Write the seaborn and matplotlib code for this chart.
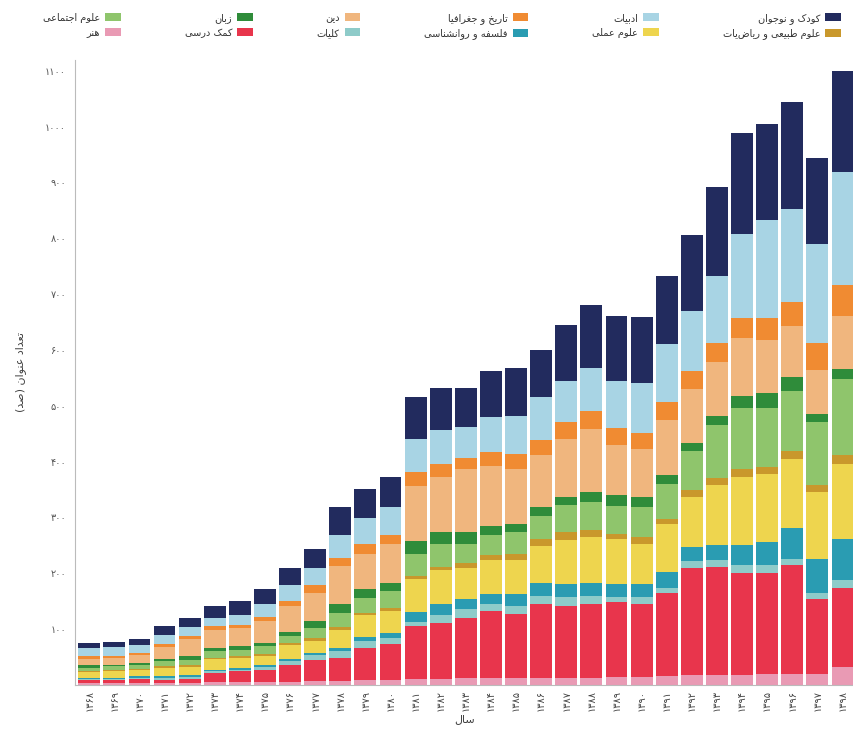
import seaborn as sns
import numpy as np
import pandas as pd
import matplotlib.pyplot as plt
from matplotlib.patches import Patch

# سال ها (۱۳۶۸ تا ۱۳۹۸)
years = ["۱۳۶۸", "۱۳۶۹", "۱۳۷۰", "۱۳۷۱", "۱۳۷۲", "۱۳۷۳", "۱۳۷۴", "۱۳۷۵", "۱۳۷۶", "۱۳۷۷",
         "۱۳۷۸", "۱۳۷۹", "۱۳۸۰", "۱۳۸۱", "۱۳۸۲", "۱۳۸۳", "۱۳۸۴", "۱۳۸۵", "۱۳۸۶", "۱۳۸۷",
         "۱۳۸۸", "۱۳۸۹", "۱۳۹۰", "۱۳۹۱", "۱۳۹۲", "۱۳۹۳", "۱۳۹۴", "۱۳۹۵", "۱۳۹۶", "۱۳۹۷", "۱۳۹۸"]

# from the bottom of the stack to the top
honar = [3, 3, 3, 3, 4, 5, 5, 6, 6, 7, 7, 8, 8, 10, 10, 12, 12, 12, 12, 13, 13, 14, 14, 16, 18, 18, 18, 19, 20, 20, 32]
komak_darsi = [5, 6, 7, 6, 7, 16, 19, 21, 30, 38, 42, 58, 65, 96, 101, 107, 120, 115, 133, 128, 132, 134, 131, 148, 191, 194, 183, 181, 194, 134, 142]
kolliyat = [2, 2, 3, 3, 3, 3, 3, 5, 6, 8, 11, 13, 11, 7, 14, 16, 12, 14, 14, 16, 14, 10, 12, 10, 13, 11, 13, 14, 12, 11, 14]
falsafe = [2, 2, 2, 3, 3, 3, 4, 4, 5, 4, 6, 6, 9, 18, 19, 18, 19, 21, 24, 24, 24, 22, 23, 29, 25, 27, 37, 41, 55, 61, 74]
oloom_amali = [11, 11, 11, 15, 15, 19, 17, 15, 24, 22, 33, 40, 40, 58, 61, 57, 60, 61, 66, 78, 82, 81, 73, 85, 90, 108, 122, 122, 124, 120, 133]
oloom_tabiei = [2, 3, 3, 3, 3, 3, 3, 4, 4, 5, 4, 4, 4, 6, 6, 9, 10, 11, 12, 14, 12, 10, 11, 9, 12, 12, 13, 14, 14, 12, 16]
oloom_ejtemaei = [6, 6, 7, 9, 10, 11, 12, 14, 12, 18, 26, 26, 31, 39, 42, 34, 36, 39, 42, 50, 51, 50, 54, 62, 70, 95, 109, 104, 108, 113, 136]
zaban = [4, 3, 4, 5, 6, 6, 6, 6, 8, 13, 15, 16, 15, 24, 20, 20, 16, 15, 16, 14, 18, 19, 19, 16, 14, 17, 22, 27, 24, 14, 19]
din = [12, 12, 13, 20, 32, 33, 32, 40, 46, 50, 69, 64, 70, 99, 100, 114, 107, 99, 92, 104, 112, 90, 86, 100, 97, 96, 104, 95, 91, 79, 95]
tarikh = [4, 4, 4, 6, 4, 6, 6, 6, 10, 14, 15, 17, 16, 24, 22, 20, 25, 26, 28, 30, 33, 30, 28, 32, 32, 34, 36, 40, 43, 48, 56]
adabiyat = [15, 15, 15, 17, 16, 15, 19, 24, 28, 31, 41, 47, 49, 60, 62, 55, 63, 68, 77, 74, 77, 84, 89, 104, 108, 121, 151, 176, 167, 177, 201]
koodak = [9, 10, 10, 15, 17, 21, 24, 26, 31, 33, 50, 52, 54, 75, 74, 69, 83, 86, 84, 100, 112, 117, 118, 122, 136, 158, 181, 172, 192, 154, 181]

categories = ["هنر", "کمک درسی", "کلیات", "فلسفه و روانشناسی", "علوم عملی",
              "علوم طبیعی و ریاضیات", "علوم اجتماعی", "زبان", "دین",
              "تاریخ و جغرافیا", "ادبیات", "کودک و نوجوان"]
colors = ["#e99ab4", "#e8354c", "#8ecbc9", "#2a9cb2", "#eed54e",
          "#c9982c", "#8fc56c", "#2f8c3a", "#f0b67e",
          "#f08b32", "#a8d4e4", "#222b5e"]

y_ticks = [100, 200, 300, 400, 500, 600, 700, 800, 900, 1000, 1100]
y_tick_labels = ["۱۰۰", "۲۰۰", "۳۰۰", "۴۰۰", "۵۰۰", "۶۰۰", "۷۰۰", "۸۰۰", "۹۰۰", "۱۰۰۰", "۱۱۰۰"]

# --- tiny persian shaper (matplotlib has no text shaping) ---
FORMS = {
    "ا": ("\uFE8D", "\uFE8E", None, None), "ب": ("\uFE8F", "\uFE90", "\uFE91", "\uFE92"),
    "پ": ("\uFB56", "\uFB57", "\uFB58", "\uFB59"), "ت": ("\uFE95", "\uFE96", "\uFE97", "\uFE98"),
    "ج": ("\uFE9D", "\uFE9E", "\uFE9F", "\uFEA0"), "چ": ("\uFB7A", "\uFB7B", "\uFB7C", "\uFB7D"),
    "ح": ("\uFEA1", "\uFEA2", "\uFEA3", "\uFEA4"), "خ": ("\uFEA5", "\uFEA6", "\uFEA7", "\uFEA8"),
    "د": ("\uFEA9", "\uFEAA", None, None), "ذ": ("\uFEAB", "\uFEAC", None, None),
    "ر": ("\uFEAD", "\uFEAE", None, None), "ز": ("\uFEAF", "\uFEB0", None, None),
    "ژ": ("\uFB8A", "\uFB8B", None, None), "س": ("\uFEB1", "\uFEB2", "\uFEB3", "\uFEB4"),
    "ش": ("\uFEB5", "\uFEB6", "\uFEB7", "\uFEB8"), "ص": ("\uFEB9", "\uFEBA", "\uFEBB", "\uFEBC"),
    "ط": ("\uFEC1", "\uFEC2", "\uFEC3", "\uFEC4"), "ع": ("\uFEC9", "\uFECA", "\uFECB", "\uFECC"),
    "غ": ("\uFECD", "\uFECE", "\uFECF", "\uFED0"), "ف": ("\uFED1", "\uFED2", "\uFED3", "\uFED4"),
    "ق": ("\uFED5", "\uFED6", "\uFED7", "\uFED8"), "ک": ("\uFB8E", "\uFB8F", "\uFB90", "\uFB91"),
    "گ": ("\uFB92", "\uFB93", "\uFB94", "\uFB95"), "ل": ("\uFEDD", "\uFEDE", "\uFEDF", "\uFEE0"),
    "م": ("\uFEE1", "\uFEE2", "\uFEE3", "\uFEE4"), "ن": ("\uFEE5", "\uFEE6", "\uFEE7", "\uFEE8"),
    "و": ("\uFEED", "\uFEEE", None, None), "ه": ("\uFEE9", "\uFEEA", "\uFEEB", "\uFEEC"),
    "ی": ("\uFBFC", "\uFBFD", "\uFBFE", "\uFBFF"),
}
MIRROR = {"(": ")", ")": "("}


def fa(s):
    out = []
    for i, c in enumerate(s):
        if c not in FORMS:
            out.append(MIRROR.get(c, c))
            continue
        prev = s[i - 1] if i > 0 else ""
        nxt = s[i + 1] if i + 1 < len(s) else ""
        jp = prev in FORMS and FORMS[prev][2] is not None
        jn = nxt in FORMS and FORMS[c][2] is not None
        iso, fin, ini, med = FORMS[c]
        if jp and jn:
            out.append(med)
        elif jp:
            out.append(fin)
        elif jn:
            out.append(ini)
        else:
            out.append(iso)
    return "".join(reversed(out))


sns.set_style("white")
plt.rcParams["font.family"] = ["DejaVu Sans"]

df = pd.DataFrame(dict(zip(categories, [honar, komak_darsi, kolliyat, falsafe, oloom_amali,
                                        oloom_tabiei, oloom_ejtemaei, zaban, din, tarikh,
                                        adabiyat, koodak])))
df["year"] = years
cum = df[categories].cumsum(axis=1)
cum["year"] = years

fig = plt.figure(figsize=(8.54, 7.42), dpi=100)
ax = fig.add_axes([0.088, 0.077, 0.912, 0.842])

# draw from the top layer down so each lower layer covers the one above
for cat, col in reversed(list(zip(categories, colors))):
    sns.barplot(data=cum, x="year", y=cat, order=years, color=col,
                width=0.87, linewidth=0, saturation=1, ax=ax)

ax.set_xlim(-0.56, 30.46)
ax.set_ylim(0, 1119)
ax.set_yticks(y_ticks)
ax.set_yticklabels(y_tick_labels, fontsize=7, color="#555555")
ax.set_xticks(range(len(years)))
ax.set_xticklabels(years, rotation=90, fontsize=7, color="#444444")
ax.tick_params(axis="y", length=3, color="#999999")
ax.tick_params(axis="x", length=0, pad=4)
ax.set_xlabel(fa("سال"), fontsize=8, color="#444444", labelpad=2)
ax.set_ylabel(fa("تعداد عنوان (صد)"), fontsize=8, color="#444444", labelpad=14)
sns.despine(ax=ax)
ax.spines["left"].set_color("#bbbbbb")
ax.spines["bottom"].set_color("#bbbbbb")

# legend in RTL order: right column first
leg_order = ["علوم اجتماعی", "هنر", "زبان", "کمک درسی", "دین", "کلیات",
             "تاریخ و جغرافیا", "فلسفه و روانشناسی", "ادبیات", "علوم عملی",
             "کودک و نوجوان", "علوم طبیعی و ریاضیات"]
col_of = dict(zip(categories, colors))
handles = [Patch(facecolor=col_of[c], edgecolor="none") for c in leg_order]
labels = [fa(c) for c in leg_order]
fig.legend(handles, labels, ncol=6, loc="lower left", bbox_to_anchor=(0.04, 0.935, 0.955, 0.06),
           mode="expand", markerfirst=False, frameon=False, fontsize=7,
           handlelength=1.6, handleheight=0.9, handletextpad=0.5, labelspacing=0.5,
           labelcolor="#333333")

plt.savefig("out.png", dpi=100)
